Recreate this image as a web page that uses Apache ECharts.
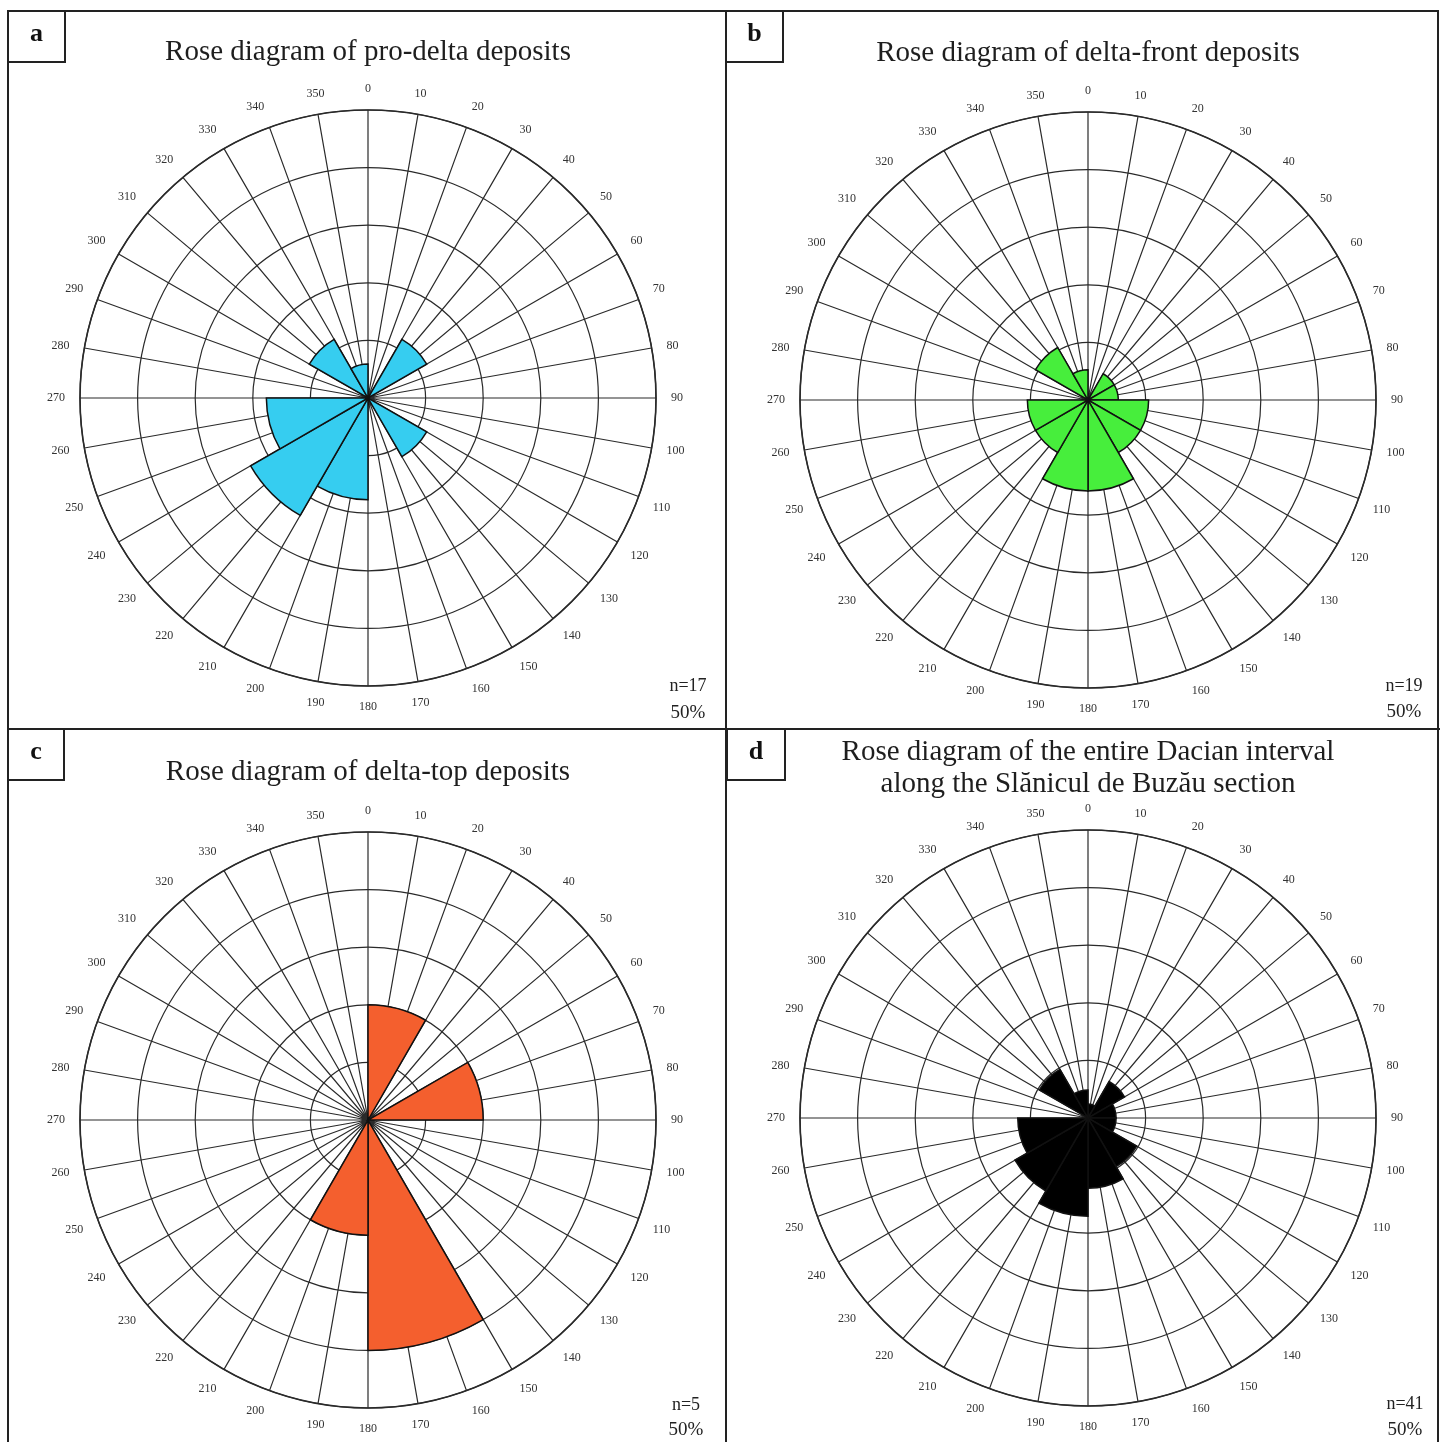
<!DOCTYPE html>
<html>
<head>
<meta charset="utf-8">
<script src="https://cdn.jsdelivr.net/npm/echarts@6/dist/echarts.min.js"></script>
<style>
  html, body { margin: 0; padding: 0; background: #ffffff; }
  #chart { width: 1440px; height: 1442px; }
</style>
</head>
<body>
<div id="chart"></div>
<script>
// Azimuth labels around each rose (every 10 degrees)
const angleLabels = ['0', '10', '20', '30', '40', '50', '60', '70', '80', '90', '100', '110',
  '120', '130', '140', '150', '160', '170', '180', '190', '200', '210', '220', '230',
  '240', '250', '260', '270', '280', '290', '300', '310', '320', '330', '340', '350'];

// 30-degree direction classes
const bins = ['0-30', '30-60', '60-90', '90-120', '120-150', '150-180',
  '180-210', '210-240', '240-270', '270-300', '300-330', '330-360'];

// Number of paleocurrent readings per class
const proDeltaCounts   = [0, 2, 0, 0, 2, 0, 3, 4, 3, 0, 2, 1];
const deltaFrontCounts = [0, 1, 1, 2, 2, 3, 3, 2, 2, 0, 2, 1];
const deltaTopCounts   = [1, 0, 1, 0, 0, 2, 1, 0, 0, 0, 0, 0];
const dacianCounts     = [1, 3, 2, 2, 4, 5, 7, 6, 5, 0, 4, 2];

// Radial scale: outer circle = 50 %, rings every 10 %
const radiusMax = 50;
const ringStep = 10;
const spokeStep = 10;

const panelLetters = ['a', 'b', 'c', 'd'];
const panelTitles = [
  'Rose diagram of pro-delta deposits',
  'Rose diagram of delta-front deposits',
  'Rose diagram of delta-top deposits',
  'Rose diagram of the entire Dacian interval\nalong the Sl\u0103nicul de Buz\u0103u section'
];
const panelCounts = [proDeltaCounts, deltaFrontCounts, deltaTopCounts, dacianCounts];
const panelColors = ['#36cdf0', '#47ee3c', '#f45f2e', '#000000'];

// Layout of the four panels
const layout = [
  { cx: 368,  cy: 398,  r: 288, titleY: [52],       nX: 688,  nY: 686,  pY: 713 },
  { cx: 1088, cy: 400,  r: 288, titleY: [53],       nX: 1404, nY: 686,  pY: 712 },
  { cx: 368,  cy: 1120, r: 288, titleY: [772],      nX: 686,  nY: 1405, pY: 1430 },
  { cx: 1088, cy: 1118, r: 288, titleY: [752, 784], nX: 1405, nY: 1404, pY: 1430 }
];
const letterBoxes = [
  [8, 11, 57, 51], [726, 11, 57, 51], [8, 729, 56, 51], [727, 729, 58, 51]
];

const serif = '"Liberation Serif", "DejaVu Serif", serif';
const gridColor = '#2a2a2a';

const polar = [], angleAxis = [], radiusAxis = [], series = [], graphic = [];

panelCounts.forEach((counts, i) => {
  const L = layout[i];
  const n = counts.reduce((a, b) => a + b, 0);
  const gridIdx = 2 * i, barIdx = 2 * i + 1;

  // grid polar (spokes, rings, labels)
  polar.push({ center: [L.cx, L.cy], radius: L.r });
  // bar polar (30-degree classes)
  polar.push({ center: [L.cx, L.cy], radius: L.r });

  angleAxis.push({
    polarIndex: gridIdx,
    type: 'value',
    min: 0, max: 360, interval: spokeStep,
    startAngle: 90,
    clockwise: true,
    z: 0,
    axisLine: { show: true, lineStyle: { color: gridColor, width: 1.6 } },
    axisTick: { show: false },
    axisLabel: {
      show: true, margin: 15,
      fontFamily: serif, fontSize: 12, color: '#333',
      formatter: v => (v < 360 ? angleLabels[Math.round(v / spokeStep)] : '')
    },
    splitLine: { show: true, lineStyle: { color: gridColor, width: 1.2 } }
  });
  angleAxis.push({
    polarIndex: barIdx,
    type: 'category',
    data: bins,
    startAngle: 90,
    clockwise: true,
    axisLine: { show: false },
    axisTick: { show: false },
    axisLabel: { show: false },
    splitLine: { show: false }
  });

  radiusAxis.push({
    polarIndex: gridIdx,
    type: 'value',
    min: 0, max: radiusMax, interval: ringStep,
    z: 0,
    axisLine: { show: false },
    axisTick: { show: false },
    axisLabel: { show: false },
    splitLine: { show: true, lineStyle: { color: gridColor, width: 1.2 } }
  });
  radiusAxis.push({
    polarIndex: barIdx,
    type: 'value',
    min: 0, max: radiusMax,
    axisLine: { show: false },
    axisTick: { show: false },
    axisLabel: { show: false },
    splitLine: { show: false }
  });

  series.push({
    type: 'bar',
    coordinateSystem: 'polar',
    polarIndex: barIdx,
    barCategoryGap: '0%',
    z: 3,
    silent: true,
    data: counts.map(c => (c > 0 ? c / n * 100 : null)),
    itemStyle: { color: panelColors[i], borderColor: '#111', borderWidth: 1.5 }
  });

  // title
  panelTitles[i].split('\n').forEach((line, k) => {
    graphic.push({
      type: 'text', z: 10,
      style: {
        text: line, x: L.cx, y: L.titleY[k],
        align: 'center', verticalAlign: 'middle',
        textAlign: 'center', textVerticalAlign: 'middle',
        font: '29px ' + serif, fill: '#1e1e1e'
      }
    });
  });

  // sample size and scale
  graphic.push({
    type: 'text', z: 10,
    style: {
      text: 'n=' + n, x: L.nX, y: L.nY,
      align: 'center', verticalAlign: 'middle', textAlign: 'center', textVerticalAlign: 'middle',
      font: '18px ' + serif, fill: '#222'
    }
  });
  graphic.push({
    type: 'text', z: 10,
    style: {
      text: radiusMax + '%', x: L.nX, y: L.pY,
      align: 'center', verticalAlign: 'middle', textAlign: 'center', textVerticalAlign: 'middle',
      font: '19px ' + serif, fill: '#222'
    }
  });

  // letter box
  const b = letterBoxes[i];
  graphic.push({
    type: 'rect', z: 10,
    shape: { x: b[0], y: b[1], width: b[2], height: b[3] },
    style: { fill: '#fff', stroke: '#222', lineWidth: 2 }
  });
  graphic.push({
    type: 'text', z: 11,
    style: {
      text: panelLetters[i], x: b[0] + b[2] / 2, y: b[1] + b[3] / 2 - 2,
      align: 'center', verticalAlign: 'middle', textAlign: 'center', textVerticalAlign: 'middle',
      font: 'bold 26px ' + serif, fill: '#111'
    }
  });
});

// panel frames
graphic.unshift(
  { type: 'rect', z: 9, shape: { x: 8, y: 11, width: 1430, height: 1440 },
    style: { fill: 'none', stroke: '#222', lineWidth: 2 } },
  { type: 'line', z: 9, shape: { x1: 726, y1: 11, x2: 726, y2: 1442 },
    style: { stroke: '#222', lineWidth: 2 } },
  { type: 'line', z: 9, shape: { x1: 8, y1: 729, x2: 1440, y2: 729 },
    style: { stroke: '#222', lineWidth: 2 } }
);

const chart = echarts.init(document.getElementById('chart'), null, { renderer: 'canvas' });
chart.setOption({
  backgroundColor: '#ffffff',
  animation: false,
  polar, angleAxis, radiusAxis, series, graphic
});
</script>
</body>
</html>
